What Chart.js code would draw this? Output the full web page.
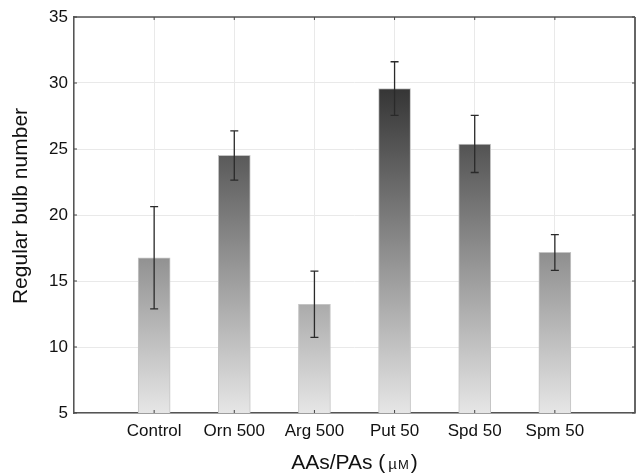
<!DOCTYPE html>
<html>
<head>
<meta charset="utf-8">
<script src="https://cdn.jsdelivr.net/npm/chart.js@4"></script>
<style>
  html, body { margin: 0; padding: 0; background: #fff; }
  #wrap { width: 638px; height: 475px; }
</style>
</head>
<body>
<div id="wrap"><canvas id="myChart" width="638" height="475"></canvas></div>
<script>
// data
const categories = ['Control', 'Orn 500', 'Arg 500', 'Put 50', 'Spd 50', 'Spm 50']
const bulbMean = [16.76, 24.52, 13.24, 29.58, 25.38, 17.18]
const errUpper = [20.63, 26.38, 15.75, 31.61, 27.54, 18.51]
const errLower = [12.89, 22.64, 10.73, 27.54, 23.22, 15.8]
const yTicks = [5, 10, 15, 20, 25, 30, 35]

const FONT = "'Liberation Sans', Arial, sans-serif"
Chart.defaults.font.family = FONT
Chart.defaults.color = '#222'

// empty slot at each end so the bars sit one full step in from the frame
const labels = [''].concat(categories, [''])
const values = [null].concat(bulbMean, [null])

// gradient over the whole plot height, light at the bottom
const barFill = (ctx) => {
    const area = ctx.chart.chartArea
    if (!area) return '#999'
    const g = ctx.chart.ctx.createLinearGradient(0, area.bottom, 0, area.top)
    g.addColorStop(0, 'rgb(230,230,230)')
    g.addColorStop(1, 'rgb(14,14,14)')
    return g
}

// error bars + frame + titles
const extras = {
    id: 'extras',
    afterDatasetsDraw(chart) {
        const c = chart.ctx
        const y = chart.scales.y
        const meta = chart.getDatasetMeta(0)
        c.save()
        c.strokeStyle = '#2a2a2a'
        c.lineWidth = 1.3
        categories.forEach((cat, i) => {
            const bar = meta.data[i + 1]
            const x = bar.x
            const yt = y.getPixelForValue(errUpper[i])
            const yb = y.getPixelForValue(errLower[i])
            c.beginPath()
            c.moveTo(x, yt); c.lineTo(x, yb)
            c.moveTo(x - 4, yt); c.lineTo(x + 4, yt)
            c.moveTo(x - 4, yb); c.lineTo(x + 4, yb)
            c.stroke()
        })
        c.restore()
    },
    afterDraw(chart) {
        const c = chart.ctx
        const a = chart.chartArea
        const x = chart.scales.x
        const y = chart.scales.y
        c.save()
        // top and right side of the frame
        c.strokeStyle = '#555'
        c.lineWidth = 1.5
        c.beginPath()
        c.moveTo(a.left, a.top); c.lineTo(a.right, a.top)
        c.stroke()
        c.lineWidth = 2
        c.strokeStyle = '#666'
        c.beginPath()
        c.moveTo(a.right, a.top); c.lineTo(a.right, a.bottom)
        c.stroke()
        // small inner ticks
        c.strokeStyle = '#444'
        c.lineWidth = 1
        c.beginPath()
        yTicks.forEach((v) => {
            const py = y.getPixelForValue(v)
            c.moveTo(a.left, py); c.lineTo(a.left + 3, py)
            c.moveTo(a.right, py); c.lineTo(a.right - 3, py)
        })
        categories.forEach((cat, i) => {
            const px = x.getPixelForValue(i + 1)
            c.moveTo(px, a.bottom); c.lineTo(px, a.bottom - 3)
            c.moveTo(px, a.top); c.lineTo(px, a.top + 3)
        })
        c.stroke()
        // y title
        c.fillStyle = '#111'
        c.font = '21px ' + FONT
        c.textAlign = 'center'
        c.textBaseline = 'middle'
        c.save()
        c.translate(21, 206)
        c.rotate(-Math.PI / 2)
        c.fillText('Regular bulb number', 0, 0)
        c.restore()
        // x title, the unit drawn small
        const parts = [
            { t: 'AAs/PAs (', f: '21px', gap: 3 },
            { t: '\u00b5', f: '15px', gap: 1 },
            { t: 'M', f: '13px', gap: 2 },
            { t: ')', f: '21px', gap: 0 }
        ]
        let total = 0
        parts.forEach((p) => {
            c.font = p.f + ' ' + FONT
            p.w = c.measureText(p.t).width
            total += p.w + p.gap
        })
        let sx = (a.left + a.right) / 2 - total / 2
        const base = 469
        c.textAlign = 'left'
        c.textBaseline = 'alphabetic'
        parts.forEach((p) => {
            c.font = p.f + ' ' + FONT
            c.fillText(p.t, sx, base)
            sx += p.w + p.gap
        })
        c.restore()
    }
}

function renderChart() {
    const grafica = document.querySelector('#myChart')
    const config = {
        type: 'bar',
        data: {
            labels: labels,
            datasets: [{
                data: values,
                backgroundColor: barFill,
                borderColor: '#c4c4c4',
                borderWidth: 1,
                barThickness: 32
            }]
        },
        options: {
            responsive: false,
            animation: false,
            layout: { padding: { top: 17, right: 3, left: 0, bottom: 0 } },
            plugins: {
                legend: { display: false },
                tooltip: { enabled: false }
            },
            scales: {
                x: {
                    offset: false,
                    grid: { offset: false, color: '#e9e9e9', drawTicks: false },
                    border: { color: '#555', width: 1.5 },
                    ticks: { padding: 8, font: { size: 17 }, color: '#111', maxRotation: 0, autoSkip: false },
                    afterFit: (scale) => {
                        scale.height = 62
                        scale.paddingLeft = 0
                        scale.paddingRight = 0
                    }
                },
                y: {
                    min: 5,
                    max: 35,
                    grid: { color: '#e9e9e9', drawTicks: false },
                    border: { color: '#555', width: 1.5 },
                    ticks: { stepSize: 5, padding: 6, font: { size: 17 }, color: '#111' },
                    afterFit: (scale) => { scale.width = 74 }
                }
            }
        },
        plugins: [extras]
    }
    new Chart(grafica, config)
}

document.addEventListener('DOMContentLoaded', () => {
    renderChart()
})
</script>
</body>
</html>
